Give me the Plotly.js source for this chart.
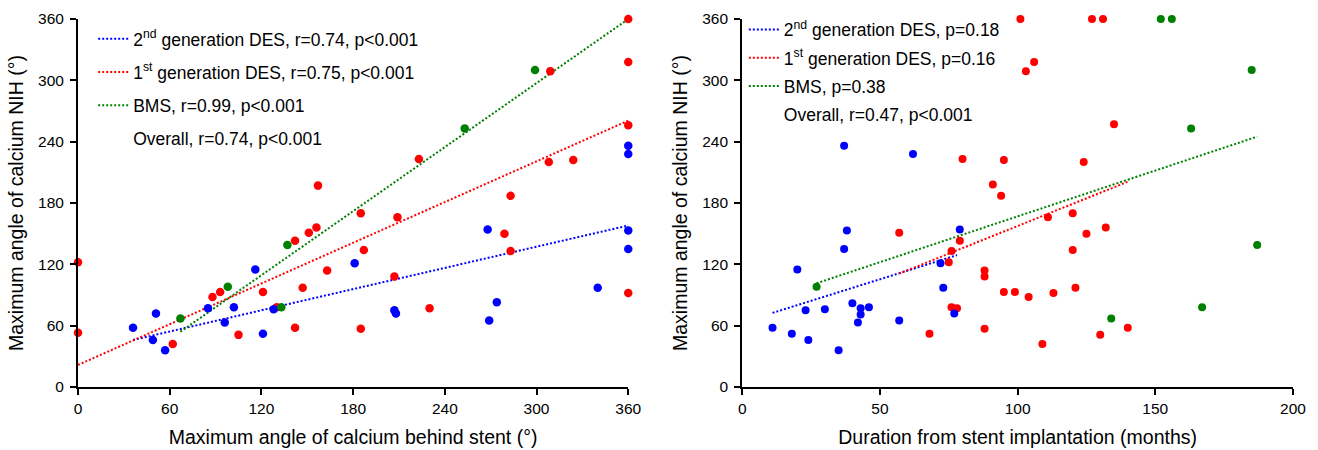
<!DOCTYPE html>
<html>
<head>
<meta charset="utf-8">
<script src="https://cdn.plot.ly/plotly-3.0.1.min.js"></script>
<style>html,body{margin:0;padding:0;background:#fff}#chart{width:1318px;height:450px}</style>
</head>
<body>
<div id="chart"></div>
<script>
// ---- Left panel: calcium behind stent vs calcium NIH (degrees) ----
const leftBlueX = [36, 51, 49, 57, 85, 96, 102, 116, 121, 128, 181, 207, 208, 268, 269, 274, 340, 360, 360, 360, 360];
const leftBlueY = [58, 72, 46, 36, 77, 63, 78, 115, 52, 76, 121, 75, 72, 154, 65, 83, 97, 153, 135, 236, 228];
const leftRedX = [0, 0, 62, 88, 93, 105, 121, 130, 142, 142, 151, 156, 147, 163, 157, 185, 187, 209, 207, 185, 223, 230, 279, 283, 360, 360, 360, 360, 309, 308, 324, 283];
const leftRedY = [122, 53, 42, 88, 93, 51, 93, 78, 58, 143, 151, 156, 97, 114, 197, 170, 134, 166, 108, 57, 223, 77, 150, 133, 92, 360, 318, 256, 309, 220, 222, 187];
const leftGreenX = [67, 98, 137, 133, 253, 299];
const leftGreenY = [67, 98, 139, 78, 253, 310];
// regression lines (end points)
const leftFitBlueX = [36, 360];   const leftFitBlueY = [46, 158];
const leftFitRedX = [0, 360];     const leftFitRedY = [21.6, 260.6];
const leftFitGreenX = [67, 360];  const leftFitGreenY = [54, 360];
const leftLegend = [
  "2<sup>nd</sup> generation DES, r=0.74, p&lt;0.001",
  "1<sup>st</sup> generation DES, r=0.75, p&lt;0.001",
  "BMS, r=0.99, p&lt;0.001",
  "Overall, r=0.74, p&lt;0.001"
];

// ---- Right panel: duration from implantation vs calcium NIH ----
const rightBlueX = [11, 18, 20, 23, 24, 30, 35, 37, 38, 40, 42, 43, 43, 46, 57, 72, 73, 77, 79, 37, 62];
const rightBlueY = [58, 52, 115, 75, 46, 76, 36, 135, 153, 82, 63, 77, 71, 78, 65, 121, 97, 72, 154, 236, 228];
const rightRedX = [57, 68, 75, 76, 79, 76, 78, 88, 88, 88, 111, 120, 125, 132, 120, 95, 99, 104, 113, 121, 109, 130, 140, 101, 106, 103, 80, 95, 91, 94, 127, 131, 135, 124];
const rightRedY = [151, 52, 122, 133, 143, 78, 77, 114, 108, 57, 166, 170, 150, 156, 134, 93, 93, 88, 92, 97, 42, 51, 58, 360, 318, 309, 223, 222, 198, 187, 360, 360, 257, 220];
const rightGreenX = [27, 152, 156, 185, 163, 187, 167, 134];
const rightGreenY = [98, 360, 360, 310, 253, 139, 78, 67];
const rightFitBlueX = [11, 78];   const rightFitBlueY = [72.5, 129];
const rightFitRedX = [57, 140];   const rightFitRedY = [111, 200.8];
const rightFitGreenX = [27, 187]; const rightFitGreenY = [101.5, 244.9];
const rightLegend = [
  "2<sup>nd</sup> generation DES, p=0.18",
  "1<sup>st</sup> generation DES, p=0.16",
  "BMS, p=0.38",
  "Overall, r=0.47, p&lt;0.001"
];

const xTicksLeft = [0, 60, 120, 180, 240, 300, 360];
const xTicksRight = [0, 50, 100, 150, 200];
const yTicks = [0, 60, 120, 180, 240, 300, 360];

const BLUE = "#0000ff", RED = "#ff0000", GREEN = "#008000";
const FONT = "Liberation Sans, Arial, sans-serif";
const DASH = "2px,2px";

function fit(x, y, color, name, xa, ya, leg, grp) {
  return {x: x, y: y, type: "scatter", mode: "lines", name: name, xaxis: xa, yaxis: ya,
    line: {color: color, width: 2, dash: DASH}, legend: leg, legendgroup: grp,
    hoverinfo: "skip", cliponaxis: false};
}
function pts(x, y, color, xa, ya, size) {
  return {x: x, y: y, type: "scatter", mode: "markers", xaxis: xa, yaxis: ya, showlegend: false,
    marker: {color: color, size: size, line: {width: 0}}, cliponaxis: false};
}

const traces = [
  fit(leftFitBlueX, leftFitBlueY, BLUE, leftLegend[0], "x", "y", "legend", "a1"),
  fit(leftFitRedX, leftFitRedY, RED, leftLegend[1], "x", "y", "legend", "a2"),
  fit(leftFitGreenX, leftFitGreenY, GREEN, leftLegend[2], "x", "y", "legend", "a3"),
  {x: [null], y: [null], type: "scatter", mode: "lines", name: leftLegend[3], xaxis: "x", yaxis: "y",
   line: {color: "rgba(0,0,0,0)", width: 0}, legend: "legend", legendgroup: "a4"},
  fit(rightFitBlueX, rightFitBlueY, BLUE, rightLegend[0], "x2", "y2", "legend2", "b1"),
  fit(rightFitRedX, rightFitRedY, RED, rightLegend[1], "x2", "y2", "legend2", "b2"),
  fit(rightFitGreenX, rightFitGreenY, GREEN, rightLegend[2], "x2", "y2", "legend2", "b3"),
  {x: [null], y: [null], type: "scatter", mode: "lines", name: rightLegend[3], xaxis: "x2", yaxis: "y2",
   line: {color: "rgba(0,0,0,0)", width: 0}, legend: "legend2", legendgroup: "b4"},
  pts(leftRedX, leftRedY, RED, "x", "y", 8.5),
  pts(leftBlueX, leftBlueY, BLUE, "x", "y", 8.5),
  pts(leftGreenX, leftGreenY, GREEN, "x", "y", 8.5),
  pts(rightRedX, rightRedY, RED, "x2", "y2", 8),
  pts(rightBlueX, rightBlueY, BLUE, "x2", "y2", 8),
  pts(rightGreenX, rightGreenY, GREEN, "x2", "y2", 8)
];

const axBase = {
  showgrid: false, zeroline: false, showline: true, linecolor: "#000", linewidth: 2,
  ticks: "outside", ticklen: 6, tickwidth: 2, tickcolor: "#000",
  tickfont: {family: FONT, size: 15.5, color: "#000"}, fixedrange: true
};
const legBase = {
  font: {family: FONT, size: 17.5, color: "#000"}, bgcolor: "rgba(0,0,0,0)",
  borderwidth: 0, xanchor: "left", yanchor: "top", traceorder: "grouped"
};

const layout = {
  width: 1318, height: 450,
  margin: {l: 78, r: 25, t: 19, b: 63},
  paper_bgcolor: "#fff", plot_bgcolor: "#fff",
  font: {family: FONT, color: "#000"},
  xaxis: Object.assign({}, axBase, {domain: [0, 0.4529], range: [0, 360], tickvals: xTicksLeft,
    anchor: "y", title: {text: "Maximum angle of calcium behind stent (°)", font: {family: FONT, size: 19.5}, standoff: 15}}),
  yaxis: Object.assign({}, axBase, {domain: [0, 1], range: [0, 360], tickvals: yTicks, anchor: "x",
    ticklabelstandoff: 3,
    title: {text: "Maximum angle of calcium NIH (°)", font: {family: FONT, size: 19.5}, standoff: 9}}),
  xaxis2: Object.assign({}, axBase, {domain: [0.5467, 1], range: [0, 200], tickvals: xTicksRight,
    anchor: "y2", title: {text: "Duration from stent implantation (months)", font: {family: FONT, size: 19.5}, standoff: 15}}),
  yaxis2: Object.assign({}, axBase, {domain: [0, 1], range: [0, 360], tickvals: yTicks, anchor: "x2",
    ticklabelstandoff: 3,
    title: {text: "Maximum angle of calcium NIH (°)", font: {family: FONT, size: 19.5}, standoff: 9}}),
  legend: Object.assign({}, legBase, {x: 0.0125, y: 0.995, tracegroupgap: 7.5}),
  legend2: Object.assign({}, legBase, {x: 0.548, y: 1.02, tracegroupgap: 2.5}),
  showlegend: true
};

Plotly.newPlot("chart", traces, layout, {displayModeBar: false, staticPlot: true});
</script>
</body>
</html>
